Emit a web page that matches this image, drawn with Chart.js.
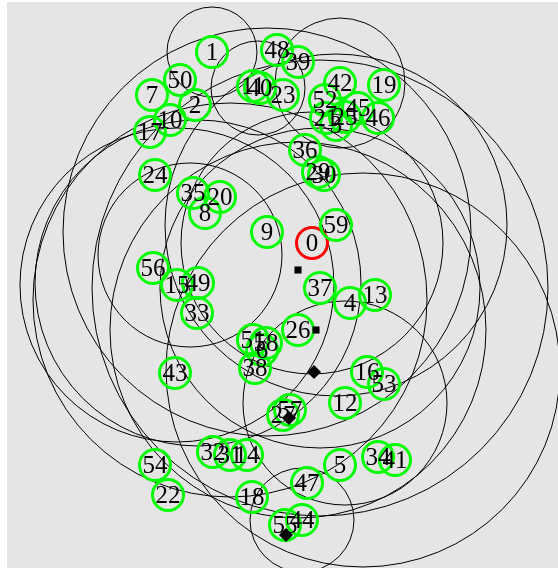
<!DOCTYPE html>
<html>
<head>
<meta charset="utf-8">
<script src="https://cdn.jsdelivr.net/npm/chart.js@4/dist/chart.umd.min.js"></script>
<style>
  html, body { margin: 0; padding: 0; background: #ffffff; overflow: hidden; }
  canvas { display: block; }
</style>
</head>
<body>
<canvas id="net" width="558" height="568"></canvas>
<script>
// Network layout: node ids and their positions in layout units
const nodeLabels = ['0','1','2','3','4','5','6','7','8','9',
  '10','31','12','13','14','15','16','17','18','19',
  '20','21','22','23','24','53','26','27','29','30',
  '32','11','34','35','36','37','38','39','40','41',
  '42','43','44','45','46','47','48','49','50','51',
  '52','54','55','56','57','58','59','33','25'];
const nodeX = [312,212,195,336,350,340,262,152,205,267,
  170,230,345,375,247,177,367,150,252,384,
  220,326,168,283,155,384,298,283,318,324,
  213,253,378,193,305,320,255,298,260,395,
  340,175,302,358,378,307,277,198,180,253,
  325,155,285,153,290,266,336,197,345];
const nodeY = [243,52,105,125,303,465,350,95,213,232,
  120,455,403,295,455,285,372,132,497,85,
  197,118,495,95,175,384,330,415,172,175,
  452,86,457,193,150,288,368,62,88,460,
  83,373,520,108,118,483,50,283,80,340,
  100,465,525,268,410,343,225,313,117];

// Range rings: centre and radius in layout units
const ringX = [212,258,340,267,177,198,363,302,336,298,190,320,312,345,320,230];
const ringY = [52,88,83,232,285,283,370,520,225,330,255,288,243,403,288,300];
const ringR = [45,47,65,204,157,163,197,52,171,188,92,160,131,102,228,197];

// Small link markers
const markX = [298,316,314,289,286];
const markY = [270,330,372,418,535];
const markShape = ['rect','rect','rectRot','rectRot','rectRot'];

const toPoints = (xs, ys) => xs.map((x, i) => ({ x: x, y: ys[i] }));

const backdrop = {
  id: 'backdrop',
  beforeDraw(chart) {
    const { ctx, chartArea: a } = chart;
    ctx.save();
    ctx.fillStyle = '#ffffff';
    ctx.fillRect(0, 0, chart.width, chart.height);
    ctx.fillStyle = '#e5e5e5';
    ctx.fillRect(a.left, a.top, a.right - a.left, a.bottom - a.top);
    ctx.restore();
  }
};

const nodeText = {
  id: 'nodeText',
  afterDatasetsDraw(chart) {
    const meta = chart.getDatasetMeta(1);
    const ctx = chart.ctx;
    ctx.save();
    ctx.font = '25px "Liberation Serif"';
    ctx.fillStyle = '#000000';
    ctx.textAlign = 'center';
    ctx.textBaseline = 'alphabetic';
    meta.data.forEach((pt, i) => {
      ctx.fillText(nodeLabels[i], pt.x, pt.y + 8);
    });
    ctx.restore();
  }
};

new Chart(document.getElementById('net'), {
  type: 'scatter',
  data: {
    datasets: [
      {
        label: 'rings',
        data: toPoints(ringX, ringY),
        order: 3,
        pointRadius: (c) => {
          const s = c.chart.scales.x;
          return Math.abs(s.getPixelForValue(ringR[c.dataIndex]) - s.getPixelForValue(0));
        },
        pointBackgroundColor: 'rgba(0,0,0,0)',
        pointBorderColor: '#000000',
        pointBorderWidth: 1
      },
      {
        label: 'nodes',
        data: toPoints(nodeX, nodeY),
        order: 2,
        pointRadius: 15.5,
        pointBackgroundColor: 'rgba(0,0,0,0)',
        pointBorderColor: nodeLabels.map(l => l === '0' ? '#ff0000' : '#00ff00'),
        pointBorderWidth: 3
      },
      {
        label: 'links',
        data: toPoints(markX, markY),
        order: 1,
        pointStyle: markShape,
        pointRadius: markShape.map(s => s === 'rect' ? 5 : 7),
        pointBackgroundColor: '#000000',
        pointBorderColor: '#000000',
        pointBorderWidth: 0
      }
    ]
  },
  options: {
    responsive: false,
    animation: false,
    events: [],
    layout: { autoPadding: false, padding: { left: 7, top: 2, right: 0, bottom: 0 } },
    plugins: { legend: { display: false }, tooltip: { enabled: false } },
    scales: {
      x: { type: 'linear', min: 7, max: 558, display: false },
      y: { type: 'linear', min: 2, max: 568, reverse: true, display: false }
    }
  },
  plugins: [backdrop, nodeText]
});
</script>
</body>
</html>
